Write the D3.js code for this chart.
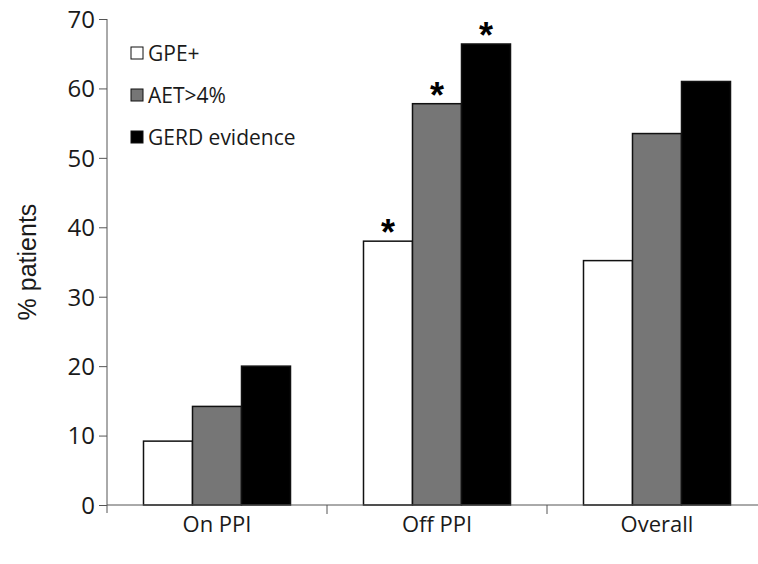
<!DOCTYPE html>
<html>
<head>
<meta charset="utf-8">
<script src="https://cdn.jsdelivr.net/npm/d3@7"></script>
<style>
  body { margin: 0; background: #fff; }
  text { font-family: "Open Sans", "Liberation Sans", sans-serif; fill: #1a1a1a; }
</style>
</head>
<body>
<script>
const categories = ['On PPI', 'Off PPI', 'Overall'];
const series = ['GPE+', 'AET>4%', 'GERD evidence'];
const seriesColors = ['#ffffff', '#767676', '#000000'];
const gpe = [9.2, 38.0, 35.2];
const aet = [14.2, 57.8, 53.5];
const gerd = [20.0, 66.4, 61.0];
// asterisks: significant differences
const starred = [[false, false, false], [true, true, true], [false, false, false]];
const yTicks = [0, 10, 20, 30, 40, 50, 60, 70];

const width = 758, height = 564;
const plot = { left: 107, right: 767, top: 19, bottom: 505 };

const svg = d3.select('body').append('svg')
    .attr('width', width)
    .attr('height', height);

const x0 = d3.scaleBand().domain(categories).range([plot.left, plot.right]).padding(0);
const x1 = d3.scaleBand().domain(series).range([36.5, x0.bandwidth() - 36.5]).padding(0);
const y = d3.scaleLinear().domain([0, 70]).range([plot.bottom, plot.top]);

const rows = categories.map((c, i) => ({
    cat: c,
    vals: [gpe[i], aet[i], gerd[i]].map((v, j) => ({ key: series[j], v, star: starred[i][j], color: seriesColors[j] }))
}));

// bars
const groups = svg.append('g').selectAll('g')
    .data(rows)
    .join('g')
    .attr('transform', d => `translate(${x0(d.cat)},0)`);

groups.selectAll('rect')
    .data(d => d.vals)
    .join('rect')
    .attr('x', d => x1(d.key))
    .attr('y', d => y(d.v))
    .attr('width', x1.bandwidth())
    .attr('height', d => y(0) - y(d.v))
    .attr('fill', d => d.color)
    .attr('stroke', '#111')
    .attr('stroke-width', 1.5);

groups.selectAll('text.star')
    .data(d => d.vals.filter(v => v.star))
    .join('text')
    .attr('class', 'star')
    .attr('x', d => x1(d.key) + x1.bandwidth() / 2)
    .attr('y', d => y(d.v) + 4)
    .attr('text-anchor', 'middle')
    .style('font-family', '"Liberation Sans", sans-serif')
    .style('font-size', '36px')
    .style('font-weight', 'bold')
    .style('fill', '#000')
    .text('*');

// y axis
const yAxis = svg.append('g')
    .attr('transform', `translate(${plot.left},0)`)
    .call(d3.axisLeft(y).tickValues(yTicks).tickSize(8).tickPadding(4).tickSizeOuter(0));
yAxis.select('.domain').attr('stroke', '#555').attr('d', `M0,${plot.top}V${plot.bottom + 8}`);
yAxis.selectAll('.tick line').attr('stroke', '#555');
yAxis.selectAll('.tick text')
    .style('font-size', '24px')
    .style('fill', '#1a1a1a')
    .attr('dy', '0.35em');

// x axis
const xAxis = svg.append('g');
xAxis.append('line')
    .attr('x1', plot.left).attr('x2', width)
    .attr('y1', y(0)).attr('y2', y(0))
    .attr('stroke', '#555');
xAxis.selectAll('line.sep')
    .data(categories.slice(1))
    .join('line')
    .attr('class', 'sep')
    .attr('x1', d => x0(d)).attr('x2', d => x0(d))
    .attr('y1', y(0)).attr('y2', y(0) + 9)
    .attr('stroke', '#555');
xAxis.selectAll('text')
    .data(categories)
    .join('text')
    .attr('x', d => x0(d) + x0.bandwidth() / 2)
    .attr('y', 532)
    .attr('text-anchor', 'middle')
    .style('font-size', '22px')
    .text(d => d);

// y title
svg.append('text')
    .attr('transform', 'translate(36,262) rotate(-90)')
    .attr('text-anchor', 'middle')
    .style('font-family', '"Liberation Sans", Arial, sans-serif')
    .style('font-size', '25px')
    .text('% patients');

// legend
const legend = svg.append('g').attr('transform', 'translate(131,0)');
const legendY = [53, 95, 137];
legend.selectAll('rect')
    .data(series)
    .join('rect')
    .attr('x', 0)
    .attr('y', (d, i) => legendY[i] - 6)
    .attr('width', 12).attr('height', 12)
    .attr('fill', (d, i) => seriesColors[i])
    .attr('stroke', '#111')
    .attr('stroke-width', 1);
legend.selectAll('text')
    .data(series)
    .join('text')
    .attr('x', 17)
    .attr('y', (d, i) => legendY[i])
    .attr('dy', '0.36em')
    .style('font-size', '21px')
    .text(d => d);
</script>
</body>
</html>
